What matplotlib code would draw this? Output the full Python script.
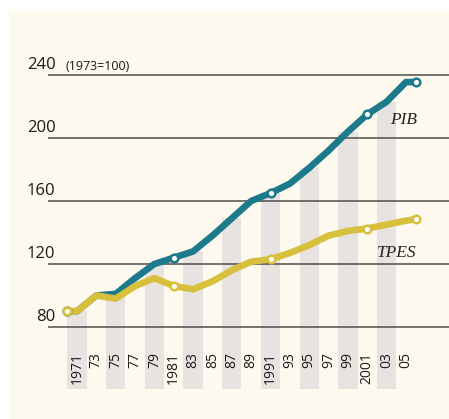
import matplotlib.pyplot as plt
from matplotlib.patches import Rectangle

years = [1970, 1971, 1973, 1975, 1977, 1979, 1981, 1983, 1985, 1987, 1989,
         1991, 1993, 1995, 1997, 1999, 2001, 2003, 2005, 2006]
pib = [90, 90, 100, 101, 111, 120, 124, 128, 138, 149, 160,
       165, 171, 181, 192, 204, 215, 223, 235.5, 235.5]
tpes = [90, 90, 100, 98, 106, 111, 106, 104, 109, 116, 121.5,
        123, 127, 132, 138, 141, 142.5, 145, 147.5, 148.5]

marker_years = [1970, 1981, 1991, 2001, 2006]
bar_years = [1971, 1975, 1979, 1983, 1987, 1991, 1995, 1999, 2003]
year_labels = ["1971", "73", "75", "77", "79", "1981", "83", "85", "87", "89",
               "1991", "93", "95", "97", "99", "2001", "03", "05"]
label_years = list(range(1971, 2006, 2))
grid_vals = [80, 120, 160, 200, 240]

teal = "#1d7a8b"
gold = "#d8bf3c"
cream = "#fdf9ee"
bar_col = "#e7e3e1"

fig = plt.figure(figsize=(4.49, 4.19), dpi=100, facecolor="white")
fig.add_artist(Rectangle((9 / 449, 0), 1, 408 / 419, transform=fig.transFigure,
                         facecolor=cream, edgecolor="none", zorder=-10))
ax = fig.add_axes([0, 0, 1, 1])
ax.set_facecolor("none")
ax.axis("off")

# pixel mapping: 1971 -> x=77, 9.675 px/yr ; value 80 -> y=327, 1.575 px/unit
ax.set_xlim(1971 - 77 / 9.675, 1971 + 372 / 9.675)
ax.set_ylim(80 - 92 / 1.575, 80 + 327 / 1.575)

bottom = 80 - 62 / 1.575
pib_at = dict(zip(years, pib))
ax.bar(bar_years, [pib_at[y] - bottom for y in bar_years], bottom=bottom, width=2,
       color=bar_col, zorder=1)

x0 = 1971 - 29 / 9.675
x1 = 2010
ax.hlines(grid_vals, x0, x1, color="#4d4d4d", lw=1.1, zorder=2)
for v in grid_vals:
    ax.text(1971 - 21.5 / 9.675, v + 1.2, str(v), ha="right", va="bottom",
            fontsize=12, family="Open Sans", color="#1a1a1a", zorder=5)
ax.text(1971 - 11 / 9.675, 241.2, "(1973=100)", ha="left", va="bottom",
        fontsize=9, family="Open Sans", color="#1a1a1a", zorder=5)

for yr, lab in zip(label_years, year_labels):
    ax.text(yr, 64, lab, rotation=90, ha="center", va="top", fontsize=10,
            family="Open Sans", color="#1a1a1a", zorder=5)

ax.plot(years, pib, color=teal, lw=4.8, solid_joinstyle="round",
        solid_capstyle="round", zorder=3)
ax.plot(years, tpes, color=gold, lw=4.8, solid_joinstyle="round",
        solid_capstyle="round", zorder=4)
tpes_at = dict(zip(years, tpes))
ax.plot(marker_years, [pib_at[y] for y in marker_years], "o", mfc="white",
        mec=teal, ms=5.5, mew=1.8, zorder=6)
ax.plot(marker_years, [tpes_at[y] for y in marker_years], "o", mfc="white",
        mec=gold, ms=5.5, mew=1.8, zorder=6)

ax.text(2003.4, 209, "PIB", ha="left", va="baseline", fontsize=12.5,
        family="Liberation Serif", style="italic", color="#222222", zorder=5)
ax.text(2002.0, 124.6, "TPES", ha="left", va="baseline", fontsize=12.5,
        family="Liberation Serif", style="italic", color="#222222", zorder=5)

fig.savefig("out.png", dpi=100, facecolor="white")
